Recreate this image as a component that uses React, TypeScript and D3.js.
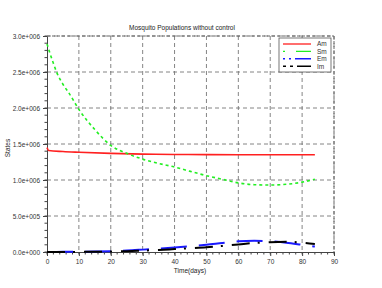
import { useEffect, useRef } from "react";
import * as d3 from "d3";

// time points (days) and populations (x 1e6)
const amDays = [0, 0.5, 5, 10, 20, 30, 40, 50, 60, 70, 84];
const amVals = [1.45, 1.41, 1.395, 1.385, 1.37, 1.36, 1.355, 1.352, 1.35, 1.35, 1.35];

const days = [0, 1, 2, 3, 5, 7, 10, 15, 20, 25, 30, 35, 40, 45, 50, 55, 60, 65, 70, 75, 80, 84];
const smVals = [2.89, 2.75, 2.62, 2.5, 2.33, 2.2, 1.98, 1.7, 1.48, 1.37, 1.29, 1.23, 1.18, 1.12, 1.06, 1.01, 0.96, 0.935, 0.93, 0.94, 0.97, 1.01];
const emVals = [0, 0, 0, 0.001, 0.002, 0.003, 0.004, 0.007, 0.012, 0.02, 0.033, 0.047, 0.062, 0.08, 0.1, 0.125, 0.148, 0.155, 0.148, 0.13, 0.1, 0.075];
const imVals = [0, 0, 0, 0, 0.001, 0.001, 0.002, 0.004, 0.007, 0.012, 0.02, 0.028, 0.04, 0.052, 0.065, 0.085, 0.105, 0.125, 0.137, 0.142, 0.13, 0.112];

const xTicks = [0, 10, 20, 30, 40, 50, 60, 70, 80, 90];
const yTicks = [0, 0.5, 1.0, 1.5, 2.0, 2.5, 3.0];

const series = [
  { name: "Am", color: "#ff2020", dash: null, width: 1.6, xs: amDays, ys: amVals },
  { name: "Sm", color: "#22ee22", dash: "3,3", width: 1.6, xs: days, ys: smVals },
  { name: "Em", color: "#1a1aff", dash: "26,12", width: 2, xs: days, ys: emVals },
  { name: "Im", color: "#000000", dash: "18,8,2,9", width: 2, xs: days, ys: imVals },
];

export default function App() {
  const svgRef = useRef<SVGSVGElement>(null);

  useEffect(() => {
    const svg = d3.select(svgRef.current);
    svg.selectAll("*").remove();

    const width = 382, height = 288;
    const margin = { top: 36, right: 48, bottom: 36, left: 47 };
    const innerW = width - margin.left - margin.right;
    const innerH = height - margin.top - margin.bottom;
    const font = "Arial, 'Liberation Sans', sans-serif";

    const g = svg.append("g").attr("transform", `translate(${margin.left},${margin.top})`);
    const x = d3.scaleLinear().domain([0, 90]).range([0, innerW]);
    const y = d3.scaleLinear().domain([0, 3]).range([innerH, 0]);

    // grid
    g.selectAll(".vgrid").data(xTicks.slice(1)).enter().append("line")
      .attr("x1", d => x(d)).attr("x2", d => x(d)).attr("y1", 0).attr("y2", innerH)
      .attr("stroke", "#777").attr("stroke-dasharray", "4,3").attr("stroke-width", 0.9);
    g.selectAll(".hgrid").data(yTicks.slice(1)).enter().append("line")
      .attr("x1", 0).attr("x2", innerW).attr("y1", d => y(d)).attr("y2", d => y(d))
      .attr("stroke", "#777").attr("stroke-dasharray", "4,3").attr("stroke-width", 0.9);

    // axes
    const yLab = (d: number) => d === 0 ? "0.0e+000" : d < 1 ? `${(d * 10).toFixed(1)}e+005` : `${d.toFixed(1)}e+006`;
    const ya = g.append("g")
      .call(d3.axisLeft(y).tickValues(yTicks).tickSize(4).tickPadding(3).tickFormat(d => yLab(+d)));
    ya.selectAll(".minor").data(d3.range(0, 3.0001, 0.1)).enter().append("line")
      .attr("x1", -2.5).attr("x2", 0).attr("y1", d => y(d)).attr("y2", d => y(d)).attr("stroke", "#444");

    const xa = g.append("g").attr("transform", `translate(0,${innerH})`)
      .call(d3.axisBottom(x).tickValues(xTicks).tickSize(4).tickPadding(3));
    xa.selectAll(".minor").data(d3.range(0, 90.01, 2)).enter().append("line")
      .attr("x1", d => x(d)).attr("x2", d => x(d)).attr("y1", 0).attr("y2", 2.5).attr("stroke", "#444");

    [ya, xa].forEach(a => {
      a.select(".domain").attr("stroke", "#444");
      a.selectAll(".tick line").attr("stroke", "#444");
      a.selectAll("text").attr("fill", "#333").style("font-size", "6.5px").style("font-family", font);
    });

    // frame top/right
    g.append("line").attr("x1", 0).attr("x2", innerW).attr("y1", 0).attr("y2", 0)
      .attr("stroke", "#666").attr("stroke-dasharray", "3,2");
    g.append("line").attr("x1", innerW).attr("x2", innerW).attr("y1", 0).attr("y2", innerH)
      .attr("stroke", "#666").attr("stroke-dasharray", "3,2");

    // lines
    series.forEach(s => {
      const pts = s.xs.map((t, i) => [t, s.ys[i]] as [number, number]);
      const line = d3.line<[number, number]>().x(d => x(d[0])).y(d => y(d[1])).curve(d3.curveMonotoneX);
      const p = g.append("path").datum(pts).attr("fill", "none")
        .attr("stroke", s.color).attr("stroke-width", s.width).attr("d", line);
      if (s.dash) p.attr("stroke-dasharray", s.dash);
    });

    // legend
    const lg = svg.append("g").attr("transform", "translate(279,38)");
    lg.append("rect").attr("width", 52).attr("height", 34).attr("fill", "#fff")
      .attr("stroke", "#555").attr("stroke-width", 0.8);
    series.forEach((s, i) => {
      const yy = 6 + i * 7.4;
      const l = lg.append("line").attr("x1", 4).attr("x2", 32).attr("y1", yy).attr("y2", yy)
        .attr("stroke", s.color).attr("stroke-width", s.width > 1.8 ? 1.6 : 1.3);
      if (s.name === "Sm") l.attr("stroke-dasharray", "2,11,20");
      if (s.name === "Em") l.attr("stroke-dasharray", "2,4,2,4,20");
      if (s.name === "Im") l.attr("stroke-dasharray", "3,4,3,4,20");
      lg.append("text").attr("x", 38).attr("y", yy + 2.3).text(s.name)
        .style("font-size", "6.5px").style("font-family", font).attr("fill", "#333");
    });

    // titles
    svg.append("text").attr("x", 182).attr("y", 30).attr("text-anchor", "middle")
      .style("font-size", "6.5px").style("font-family", font).attr("fill", "#222")
      .text("Mosquito Populations without control");
    svg.append("text").attr("x", 190).attr("y", 273).attr("text-anchor", "middle")
      .style("font-size", "6.5px").style("font-family", font).attr("fill", "#222")
      .text("Time(days)");
    svg.append("text").attr("transform", "translate(10,148) rotate(-90)").attr("text-anchor", "middle")
      .style("font-size", "6.5px").style("font-family", font).attr("fill", "#222")
      .text("States");
  }, []);

  return <svg ref={svgRef} width={382} height={288}
    style={{ position: "absolute", left: 0, top: 0, background: "#fff" }} />;
}
